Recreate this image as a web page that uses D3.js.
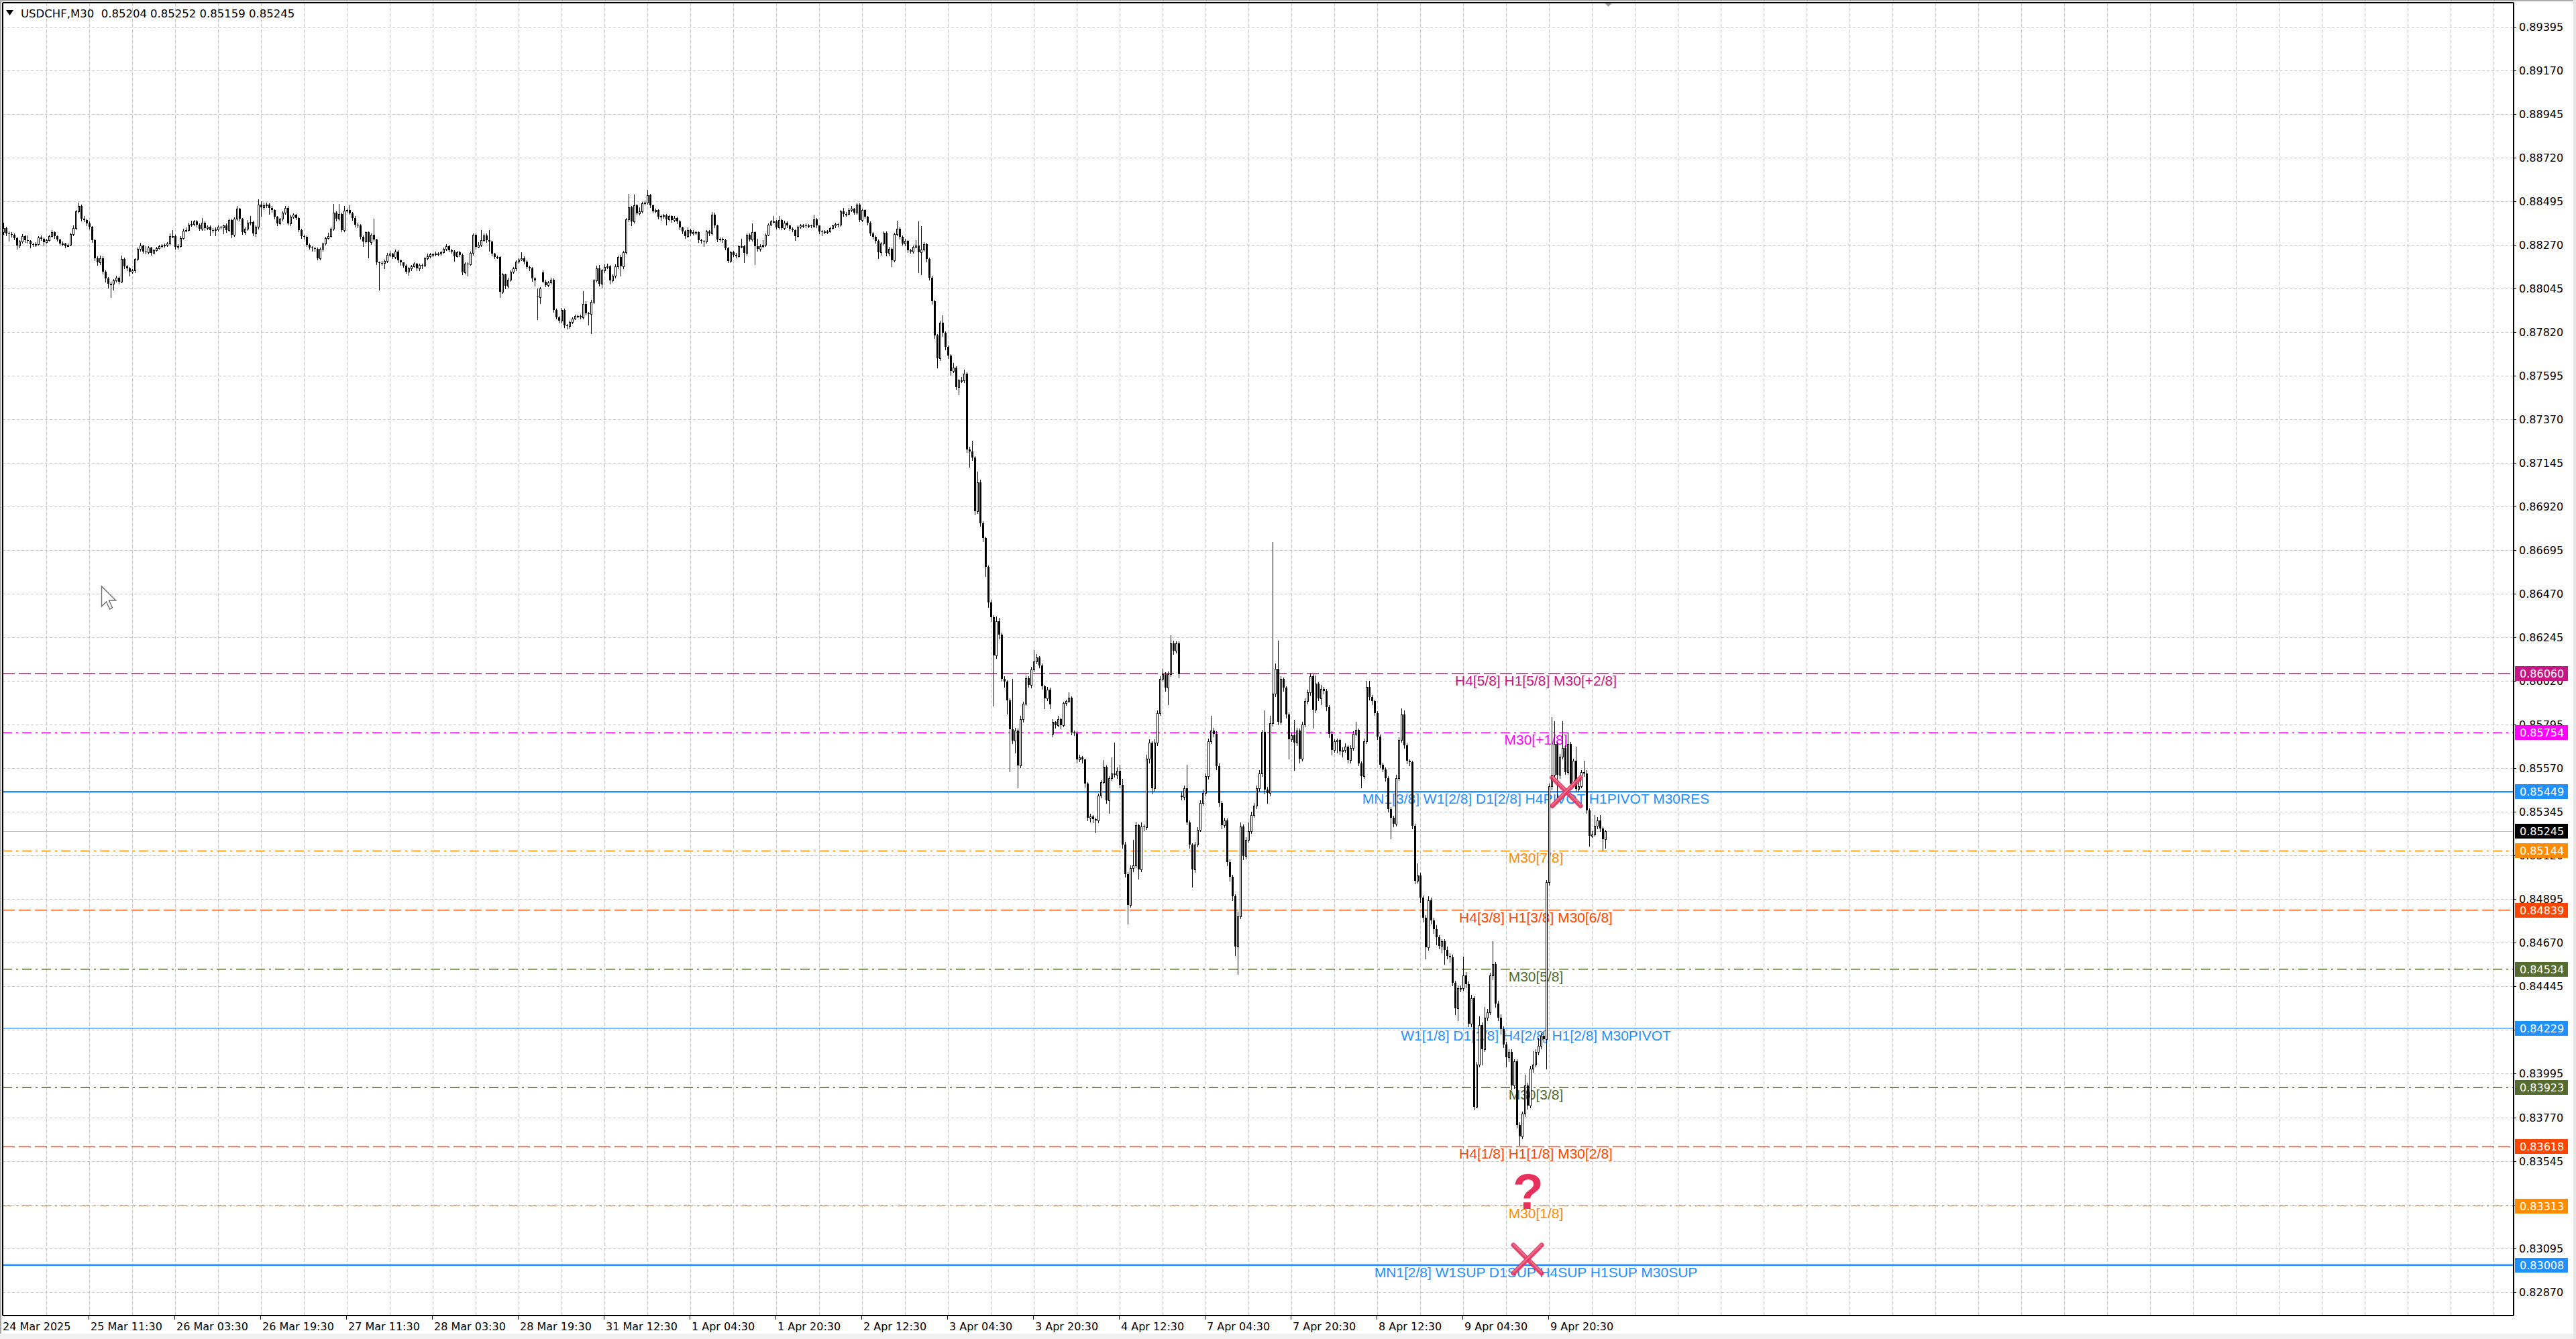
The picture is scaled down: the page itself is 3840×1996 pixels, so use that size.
<!DOCTYPE html>
<html>
<head>
<meta charset="utf-8">
<script src="https://cdn.jsdelivr.net/npm/d3@7"></script>
<style>
  html, body { margin: 0; padding: 0; background: #fff; overflow: hidden; }
  svg { display: block; }
</style>
</head>
<body>
<svg id="chart" width="3840" height="1996"></svg>
<script>
// USDCHF M30 - prices stored as price * 100000
const symbolTitle = "USDCHF,M30  0.85204 0.85252 0.85159 0.85245";
const firstOpen = 88335;
const gapBars = [199, 201, 391, 439];
const gapOpens = [88005, 88129, 85749, 85429];

const closes = [
  88358,88329,88326,88323,88306,88268,88288,88317,88295,88290,
  88273,88271,88275,88308,88302,88285,88294,88317,88335,88315,
  88298,88277,88277,88265,88272,88327,88358,88444,88471,88404,
  88398,88381,88363,88294,88202,88179,88202,88133,88098,88069,
  88071,88087,88102,88079,88196,88161,88150,88133,88138,88196,
  88248,88268,88237,88231,88256,88228,88242,88254,88262,88268,
  88271,88277,88317,88317,88260,88265,88306,88344,88348,88375,
  88377,88392,88375,88354,88383,88358,88363,88348,88346,88350,
  88363,88360,88369,88346,88398,88321,88404,88456,88404,88335,
  88352,88386,88389,88329,88363,88479,88464,88475,88479,88462,
  88450,88415,88381,88404,88435,88462,88381,88415,88425,88410,
  88346,88317,88311,88271,88256,88254,88250,88202,88248,88277,
  88306,88317,88352,88438,88404,88429,88348,88448,88450,88433,
  88410,88375,88371,88311,88288,88335,88283,88323,88298,88179,
  88178,88177,88187,88219,88225,88208,88237,88190,88179,88164,
  88133,88148,88161,88173,88150,88167,88164,88202,88210,88221,
  88221,88224,88225,88233,88248,88265,88242,88237,88213,88233,
  88219,88127,88173,88171,88228,88323,88260,88271,88294,88320,
  88294,88288,88225,88208,88208,88029,88118,88058,88092,88133,
  88148,88185,88194,88202,88185,88156,88150,88098,88087,88000,
  88046,88081,88063,88075,88092,87936,87896,87879,87936,87856,
  87850,87873,87891,87902,87902,87896,87965,87919,87913,87977,
  88087,88150,88069,88138,88156,88161,88087,88110,88161,88208,
  88161,88231,88401,88464,88392,88473,88433,88444,88485,88487,
  88528,88473,88444,88450,88415,88418,88421,88401,88418,88398,
  88410,88392,88360,88340,88317,88348,88329,88335,88335,88294,
  88291,88286,88340,88329,88427,88369,88298,88302,88294,88254,
  88187,88231,88219,88213,88265,88265,88228,88323,88298,88335,
  88265,88248,88265,88271,88323,88375,88392,88392,88360,88398,
  88358,88386,88369,88352,88346,88317,88363,88369,88371,88370,
  88371,88367,88401,88369,88340,88335,88339,88340,88358,88369,
  88377,88373,88444,88429,88429,88452,88456,88438,88479,88398,
  88450,88415,88386,88329,88311,88291,88231,88279,88332,88228,
  88251,88190,88325,88355,88311,88277,88290,88241,88237,88261,
  88267,88233,88245,88273,88197,88102,87979,87804,87685,87869,
  87816,87744,87700,87621,87637,87537,87571,87571,87605,87214,
  87204,87174,86896,87045,86836,86757,86608,86425,86350,86151,
  86330,86260,86032,86016,85922,85773,85714,85764,85585,85823,
  85903,86036,86002,86081,86121,86141,86101,85992,85932,85976,
  85899,85810,85793,85823,85793,85907,85917,85933,85754,85750,
  85615,85625,85615,85490,85315,85323,85307,85300,85429,85498,
  85578,85406,85521,85543,85536,85559,85483,85178,85026,84866,
  85056,85071,85277,85048,85269,85265,85620,85703,85467,85703,
  85856,86031,86057,85985,86054,86214,86176,86214,86054,85422,
  85467,85292,85178,85048,85178,85254,85391,85444,85528,85711,
  85764,85749,85582,85391,85277,85300,85087,85010,84911,84652,
  84805,85269,85117,85201,85246,85330,85376,85467,85543,85757,
  85460,85444,85802,85955,86084,85810,86031,85985,85848,85719,
  85741,85703,85764,85620,85795,85917,85962,86046,85871,86008,
  85932,85978,85970,85886,85749,85665,85711,85716,85658,85665,
  85681,85612,85676,85749,85767,85597,85528,85711,85990,85939,
  85917,85856,85734,85589,85566,85521,85361,85315,85285,85521,
  85718,85849,85689,85609,85601,85274,84990,85019,84902,84800,
  84647,84888,84786,84742,84698,84655,84677,84633,84604,84596,
  84465,84334,84436,84436,84502,84458,84254,84385,83825,84043,
  84247,84123,84283,84313,84502,84560,84356,84283,84225,84145,
  84079,84109,83934,84058,83730,83672,83788,83934,83832,84021,
  84043,84109,84138,84189,84174,84982,85478,85536,85696,85536,
  85631,85674,85550,85696,85492,85609,85463,85478,85550,85543,
  85354,85223,85230,85274,85303,85259,85204,85245
];

const highs = [
  88386,88365,88338,88335,88330,88312,88296,88325,88322,88318,
  88295,88282,88285,88316,88320,88308,88300,88322,88346,88340,
  88318,88302,88286,88282,88278,88332,88370,88452,88490,88478,
  88420,88405,88390,88368,88300,88210,88215,88210,88140,88105,
  88080,88095,88110,88108,88215,88205,88168,88155,88145,88200,
  88255,88280,88272,88262,88262,88260,88250,88260,88270,88275,
  88278,88285,88330,88345,88322,88275,88315,88352,88360,88385,
  88395,88400,88398,88380,88410,88390,88372,88370,88356,88360,
  88372,88368,88375,88382,88405,88405,88412,88470,88462,88410,
  88360,88398,88420,88395,88372,88505,88495,88490,88488,88485,
  88470,88455,88420,88410,88445,88470,88470,88425,88432,88430,
  88415,88352,88322,88318,88278,88262,88260,88255,88255,88282,
  88312,88332,88360,88480,88445,88480,88435,88470,88458,88475,
  88440,88418,88385,88378,88318,88340,88340,88330,88406,88302,
  88185,88186,88195,88228,88240,88230,88245,88242,88195,88182,
  88170,88155,88168,88180,88178,88175,88172,88208,88225,88230,
  88230,88235,88232,88240,88255,88275,88270,88250,88242,88240,
  88240,88225,88180,88180,88235,88330,88330,88285,88345,88330,
  88328,88345,88292,88230,88215,88212,88125,88122,88100,88140,
  88155,88192,88200,88232,88210,88190,88162,88155,88105,88046,
  88052,88138,88090,88085,88100,88098,87942,87905,87945,87942,
  87862,87880,87898,87910,87912,87910,88030,87980,87925,87985,
  88095,88162,88165,88145,88170,88175,88168,88118,88170,88215,
  88220,88240,88410,88535,88472,88530,88480,88465,88492,88500,
  88554,88535,88478,88458,88455,88425,88430,88428,88425,88422,
  88418,88415,88398,88365,88345,88360,88355,88345,88342,88340,
  88300,88296,88348,88345,88440,88435,88375,88310,88310,88300,
  88260,88240,88238,88228,88272,88300,88272,88330,88330,88380,
  88340,88300,88275,88295,88330,88380,88400,88418,88398,88418,
  88405,88395,88392,88375,88360,88350,88370,88378,88378,88380,
  88378,88375,88425,88408,88372,88345,88345,88348,88365,88375,
  88385,88382,88450,88460,88440,88462,88470,88462,88485,88485,
  88458,88455,88420,88390,88335,88318,88298,88285,88340,88338,
  88260,88258,88332,88395,88360,88318,88300,88295,88250,88268,
  88296,88392,88366,88285,88280,88205,88110,87985,87810,87880,
  87907,87825,87750,87708,87660,87645,87580,87590,87625,87612,
  87230,87259,87180,87100,87060,86845,86765,86615,86440,86360,
  86355,86345,86270,86045,86025,85930,86032,85780,85775,85840,
  85915,86050,86045,86095,86181,86160,86150,86110,86000,85990,
  85985,85825,85815,85840,85830,85915,85925,85963,85940,85765,
  85760,85640,85635,85620,85500,85335,85330,85315,85440,85510,
  85612,85585,85530,85627,85703,85575,85590,85515,85190,85035,
  85070,85200,85295,85285,85290,85280,85640,85720,85710,85720,
  85870,86045,86084,86065,86070,86255,86230,86225,86225,85450,
  85480,85589,85300,85185,85190,85265,85405,85460,85545,85725,
  85840,85780,85760,85595,85400,85315,85310,85100,85020,84920,
  84830,85290,85280,85215,85290,85345,85390,85480,85560,85770,
  85868,85475,85840,86739,86110,86229,86045,86040,85995,85860,
  85755,85820,85780,85775,85810,85930,85975,86060,86055,86050,
  86015,86000,85990,85980,85895,85760,85720,85725,85725,85680,
  85700,85690,85690,85760,85810,85775,85605,85725,86020,86020,
  85950,85925,85865,85745,85600,85575,85530,85370,85325,85535,
  85730,85880,85870,85700,85615,85610,85285,85080,85030,84915,
  84815,84910,84905,84800,84760,84710,84690,84690,84650,84615,
  84610,84475,84450,84450,84600,84520,84470,84400,84395,84055,
  84290,84260,84340,84330,84515,84680,84570,84370,84300,84240,
  84160,84120,84120,84070,84070,83745,83800,83990,83950,84035,
  84110,84120,84180,84205,84215,84995,85490,85834,85813,85705,
  85645,85813,85690,85754,85705,85620,85682,85500,85560,85609,
  85560,85365,85245,85330,85320,85330,85270,85252
];

const lows = [
  88326,88320,88290,88312,88298,88250,88258,88282,88285,88280,
  88255,88262,88265,88270,88296,88268,88280,88290,88312,88305,
  88290,88270,88268,88258,88262,88268,88320,88350,88438,88395,
  88390,88370,88355,88285,88190,88165,88170,88120,88080,88050,
  88000,88040,88080,88070,88075,88150,88140,88110,88125,88130,
  88190,88240,88228,88225,88225,88220,88225,88238,88250,88258,
  88260,88262,88270,88308,88250,88250,88260,88300,88338,88342,
  88368,88370,88365,88345,88348,88345,88350,88320,88335,88318,
  88342,88352,88330,88335,88340,88310,88315,88398,88395,88325,
  88325,88345,88375,88320,88315,88355,88420,88455,88465,88430,
  88440,88405,88370,88375,88395,88430,88375,88370,88408,88402,
  88338,88305,88300,88262,88248,88240,88240,88195,88195,88240,
  88270,88300,88312,88345,88395,88398,88340,88340,88440,88428,
  88400,88365,88362,88300,88262,88280,88204,88275,88290,88170,
  88040,88168,88150,88180,88212,88200,88200,88182,88165,88155,
  88125,88115,88140,88155,88140,88140,88150,88160,88195,88205,
  88212,88215,88216,88220,88228,88242,88235,88230,88188,88208,
  88210,88118,88120,88110,88165,88220,88250,88255,88265,88288,
  88285,88240,88215,88200,88200,88000,88020,88045,88050,88085,
  88125,88140,88178,88190,88175,88148,88140,88085,88060,87885,
  87970,88075,88055,88055,88068,87925,87888,87870,87870,87845,
  87838,87842,87865,87885,87895,87888,87890,87910,87860,87815,
  87970,88080,88060,88050,88130,88150,88070,88080,88102,88150,
  88110,88150,88225,88392,88370,88385,88425,88425,88438,88478,
  88480,88465,88435,88438,88405,88400,88410,88375,88395,88388,
  88392,88380,88350,88330,88305,88310,88320,88322,88325,88285,
  88280,88262,88280,88320,88322,88360,88288,88290,88285,88245,
  88180,88180,88210,88205,88208,88255,88180,88220,88290,88290,
  88170,88240,88240,88258,88265,88318,88370,88385,88352,88355,
  88350,88350,88362,88345,88338,88295,88312,88358,88362,88362,
  88362,88360,88360,88360,88330,88318,88328,88330,88335,88352,
  88362,88365,88368,88420,88420,88425,88445,88430,88430,88390,
  88390,88408,88375,88320,88300,88282,88200,88220,88270,88215,
  88215,88160,88185,88318,88300,88270,88268,88232,88228,88230,
  88255,88127,88118,88240,88185,88090,87965,87790,87637,87675,
  87800,87730,87685,87600,87612,87525,87498,87560,87560,87200,
  87124,87160,86880,86885,86820,86740,86560,86400,86330,85893,
  86140,86240,86020,85990,85853,85555,85700,85650,85472,85575,
  85810,85895,85990,85985,86070,86110,86090,85980,85880,85920,
  85880,85735,85780,85785,85775,85785,85895,85910,85745,85740,
  85600,85605,85600,85475,85300,85295,85290,85239,85290,85420,
  85490,85390,85340,85510,85525,85520,85470,85160,85010,84767,
  84855,85040,85060,85000,85040,85250,85255,85600,85440,85455,
  85690,85845,86020,85970,85900,86045,86160,86165,86040,85410,
  85410,85280,85160,84957,85035,85165,85245,85380,85430,85515,
  85700,85735,85565,85375,85260,85265,85070,84990,84890,84607,
  84508,84795,85100,85105,85190,85235,85320,85365,85455,85530,
  85440,85390,85430,85790,85940,85795,85800,85970,85830,85620,
  85710,85560,85690,85600,85610,85785,85905,85950,85780,85860,
  85920,85900,85955,85870,85730,85640,85655,85650,85645,85630,
  85655,85600,85600,85665,85740,85585,85470,85520,85700,85925,
  85900,85845,85720,85575,85555,85505,85345,85208,85270,85275,
  85510,85705,85675,85595,85585,85260,84975,84980,84880,84780,
  84590,84635,84770,84720,84660,84640,84620,84560,84590,84570,
  84450,84300,84270,84420,84425,84440,84240,84240,83810,83820,
  84030,84040,84110,84270,84300,84480,84340,84270,84200,84130,
  84030,84060,83915,83920,83715,83628,83660,83775,83815,83820,
  84005,84030,84095,84125,84160,84020,84970,85460,85525,85420,
  85520,85620,85540,85540,85480,85480,85450,85455,85470,85530,
  85340,85170,85215,85220,85260,85245,85150,85159
];

// price axis tick labels
const priceTicks = [0.89395,0.89170,0.88945,0.88720,0.88495,0.88270,0.88045,0.87820,
  0.87595,0.87370,0.87145,0.86920,0.86695,0.86470,0.86245,0.86020,0.85795,0.85570,
  0.85345,0.85120,0.84895,0.84670,0.84445,0.84220,0.83995,0.83770,0.83545,0.83320,
  0.83095,0.82870];

// time axis labels, one every 32 bars
const timeLabels = ["24 Mar 2025","25 Mar 11:30","26 Mar 03:30","26 Mar 19:30","27 Mar 11:30",
  "28 Mar 03:30","28 Mar 19:30","31 Mar 12:30","1 Apr 04:30","1 Apr 20:30","2 Apr 12:30",
  "3 Apr 04:30","3 Apr 20:30","4 Apr 12:30","7 Apr 04:30","7 Apr 20:30","8 Apr 12:30",
  "9 Apr 04:30","9 Apr 20:30"];

// Murrey math style levels
const levelPrices = [0.86060,0.85754,0.85449,0.85144,0.84839,0.84534,0.84229,0.83923,0.83618,0.83313,0.83008];
const levelNames = [
  "H4[5/8] H1[5/8] M30[+2/8]",
  "M30[+1/8]",
  "MN1[3/8] W1[2/8] D1[2/8] H4PIVOT H1PIVOT M30RES",
  "M30[7/8]",
  "H4[3/8] H1[3/8] M30[6/8]",
  "M30[5/8]",
  "W1[1/8] D1[1/8] H4[2/8] H1[2/8] M30PIVOT",
  "M30[3/8]",
  "H4[1/8] H1[1/8] M30[2/8]",
  "M30[1/8]",
  "MN1[2/8] W1SUP D1SUP H4SUP H1SUP M30SUP"
];
const levelLabelBar = 571;
const bidPrice = 0.85245;

// markers: [bar, price]
const crossMarks = [[582.4, 0.85449], [567.9, 0.83038]];
const questionMark = [568.1, 0.83298];

// styles for the levels (not data)
const levelStyle = [
  {color: "#C71585", dash: "18,6", width: 1.4},
  {color: "#FF00FF", dash: "14,6,3,6", width: 1.4},
  {color: "#1E90FF", dash: null, width: 2.4},
  {color: "#FF8C00", dash: "14,6,3,6", width: 1.4},
  {color: "#FF4500", dash: "18,6", width: 1.4},
  {color: "#556B2F", dash: "14,6,3,6", width: 1.4},
  {color: "#1E90FF", dash: null, width: 1.4},
  {color: "#556B2F", dash: "14,6,3,6", width: 1.4},
  {color: "#FF4500", dash: "18,6", width: 1.4},
  {color: "#FF8C00", dash: "14,6,3,6", width: 1.4},
  {color: "#1E90FF", dash: null, width: 2.4}
];

const W = 3840, H = 1996;
const plotLeft = 4, plotRight = 3747, plotTop = 4, plotBottom = 1961;

const x = d3.scaleLinear().domain([0, 936]).range([5.5, 5.5 + 4 * 936]);
const y = d3.scaleLinear().domain([0.82870, 0.89395]).range([1925.6, 40]);
const snap = v => Math.round(v) + 0.5;

const svg = d3.select("#chart");

svg.append("rect").attr("width", W).attr("height", H).attr("fill", "#fff");

// window frame
svg.append("rect").attr("x", 0).attr("y", 0).attr("width", W).attr("height", 2).attr("fill", "#a9a9a9");
svg.append("rect").attr("x", 0).attr("y", 0).attr("width", 2).attr("height", H).attr("fill", "#a9a9a9");
svg.append("rect").attr("x", 0).attr("y", 1988).attr("width", W).attr("height", 8).attr("fill", "#f0f0f0");
svg.append("rect").attr("x", 3836).attr("y", 0).attr("width", 4).attr("height", H).attr("fill", "#e6e6e6");

// grid
const grid = svg.append("g").attr("stroke", "#c6c6c6").attr("stroke-width", 1)
  .attr("shape-rendering", "crispEdges");

grid.selectAll(".hg").data(priceTicks).enter().append("line")
  .attr("x1", plotLeft).attr("x2", plotRight)
  .attr("y1", d => snap(y(d))).attr("y2", d => snap(y(d)))
  .attr("stroke-dasharray", "4,3");

grid.selectAll(".vg").data(d3.range(16, 936, 16).filter(b => x(b) < plotRight - 10)).enter().append("line")
  .attr("x1", d => x(d)).attr("x2", d => x(d))
  .attr("y1", plotTop).attr("y2", plotBottom)
  .attr("stroke-dasharray", "5,3");

// level lines
const levels = svg.append("g");
levelPrices.forEach((p, i) => {
  const st = levelStyle[i];
  levels.append("line")
    .attr("x1", plotLeft).attr("x2", plotRight)
    .attr("y1", y(p)).attr("y2", y(p))
    .attr("stroke", st.color)
    .attr("stroke-width", st.width)
    .attr("stroke-dasharray", st.dash);
});

// bid line
svg.append("line")
  .attr("x1", plotLeft).attr("x2", plotRight)
  .attr("y1", snap(y(bidPrice))).attr("y2", snap(y(bidPrice)))
  .attr("stroke", "#c0c0c0").attr("stroke-width", 1)
  .attr("shape-rendering", "crispEdges");

// level names
const labelG = svg.append("g")
  .attr("font-family", "'Liberation Sans', Arial, sans-serif")
  .attr("font-size", 21)
  .attr("text-anchor", "middle");
levelPrices.forEach((p, i) => {
  labelG.append("text")
    .attr("x", x(levelLabelBar))
    .attr("y", y(p) + 18)
    .attr("fill", levelStyle[i].color)
    .text(levelNames[i]);
});

// candles
const n = Math.min(closes.length, highs.length, lows.length);
const bars = [];
for (let i = 0; i < n; i++) {
  const gi = gapBars.indexOf(i);
  const o = i === 0 ? firstOpen : (gi >= 0 ? gapOpens[gi] : closes[i - 1]);
  const c = closes[i];
  bars.push({
    i: i,
    o: o / 1e5,
    c: c / 1e5,
    h: Math.max(highs[i], o, c) / 1e5,
    l: Math.min(lows[i], o, c) / 1e5
  });
}

const candles = svg.append("g").attr("shape-rendering", "crispEdges");

candles.selectAll(".wick").data(bars).enter().append("line")
  .attr("x1", d => x(d.i)).attr("x2", d => x(d.i))
  .attr("y1", d => Math.round(y(d.h))).attr("y2", d => Math.round(y(d.l)) + 1)
  .attr("stroke", "#000").attr("stroke-width", 1);

candles.selectAll(".body").data(bars).enter().append("rect")
  .attr("x", d => d.c >= d.o ? x(d.i) - 1 : x(d.i) - 1.5)
  .attr("width", d => d.c >= d.o ? 2 : 3)
  .attr("y", d => {
    const top = Math.round(y(Math.max(d.o, d.c)));
    return d.c >= d.o ? top + 0.5 : top;
  })
  .attr("height", d => {
    const top = Math.round(y(Math.max(d.o, d.c)));
    const bot = Math.round(y(Math.min(d.o, d.c)));
    return Math.max(1, bot - top);
  })
  .attr("fill", d => d.c >= d.o ? "#fff" : "#000")
  .attr("stroke", d => d.c >= d.o ? "#000" : "none")
  .attr("stroke-width", 1);

// markers
const markG = svg.append("g");
crossMarks.forEach(m => {
  const cx = x(m[0]), cy = y(m[1]), r = 21;
  [[-1, -1, 1, 1], [1, -1, -1, 1]].forEach(s => {
    markG.append("line")
      .attr("x1", cx + s[0] * r).attr("y1", cy + s[1] * r)
      .attr("x2", cx + s[2] * r).attr("y2", cy + s[3] * r)
      .attr("stroke", "#e0385f").attr("stroke-width", 7)
      .attr("stroke-linecap", "round").attr("opacity", 0.92);
    markG.append("line")
      .attr("x1", cx + s[0] * r).attr("y1", cy + s[1] * r - 1.5)
      .attr("x2", cx + s[2] * r).attr("y2", cy + s[3] * r - 1.5)
      .attr("stroke", "#f27a98").attr("stroke-width", 2)
      .attr("stroke-linecap", "round").attr("opacity", 0.8);
  });
});
markG.append("text")
  .attr("x", x(questionMark[0])).attr("y", y(questionMark[1]))
  .attr("text-anchor", "middle")
  .attr("font-family", "'Liberation Sans', Arial, sans-serif")
  .attr("font-weight", "bold").attr("font-size", 75)
  .attr("fill", "#e8305c")
  .text("?");

// mouse pointer left on the chart
svg.append("path")
  .attr("transform", `translate(${x(36.5)},${y(0.86509)})`)
  .attr("d", "M0,0 L0,30 L7,23 L12,34 L16,32 L11,21 L21,21 Z")
  .attr("fill", "#fff").attr("stroke", "#6e6e6e").attr("stroke-width", 1.4);

// chart shift marker
svg.append("path")
  .attr("d", `M${x(598) - 7},3 L${x(598) + 7},3 L${x(598)},10 Z`)
  .attr("fill", "#a0a0a0");

// frame lines
const frame = svg.append("g").attr("stroke", "#000").attr("stroke-width", 1.5)
  .attr("shape-rendering", "crispEdges");
frame.append("line").attr("x1", plotLeft).attr("x2", plotRight).attr("y1", plotTop).attr("y2", plotTop);
frame.append("line").attr("x1", plotLeft).attr("x2", plotLeft).attr("y1", plotTop).attr("y2", plotBottom);
frame.append("line").attr("x1", plotRight).attr("x2", plotRight).attr("y1", plotTop).attr("y2", plotBottom);
frame.append("line").attr("x1", plotLeft).attr("x2", plotRight).attr("y1", plotBottom).attr("y2", plotBottom);

// price axis
const pAxis = svg.append("g")
  .attr("font-family", "'DejaVu Sans', Verdana, sans-serif")
  .attr("font-size", 16);
pAxis.selectAll(".pt").data(priceTicks).enter().append("line")
  .attr("x1", plotRight).attr("x2", plotRight + 4)
  .attr("y1", d => snap(y(d))).attr("y2", d => snap(y(d)))
  .attr("stroke", "#000").attr("shape-rendering", "crispEdges");
pAxis.selectAll(".pl").data(priceTicks).enter().append("text")
  .attr("x", 3755).attr("y", d => y(d) + 6)
  .attr("fill", "#000")
  .text(d => d.toFixed(5));

// coloured price boxes
const boxPrices = levelPrices.concat([bidPrice]);
const boxColors = levelStyle.map(s => s.color).concat(["#000"]);
boxPrices.forEach((p, i) => {
  pAxis.append("rect")
    .attr("x", 3749).attr("y", Math.round(y(p)) - 11)
    .attr("width", 79).attr("height", 22)
    .attr("fill", boxColors[i]);
  pAxis.append("text")
    .attr("x", 3756).attr("y", y(p) + 6)
    .attr("fill", "#fff")
    .text(p.toFixed(5));
});

// time axis
const tAxis = svg.append("g")
  .attr("font-family", "'DejaVu Sans', Verdana, sans-serif")
  .attr("font-size", 16);
timeLabels.forEach((t, k) => {
  const tx = Math.round(x(k * 32) - 1.5) + 0.5;
  if (k > 0) {
    tAxis.append("line")
      .attr("x1", tx).attr("x2", tx)
      .attr("y1", plotBottom).attr("y2", plotBottom + 6)
      .attr("stroke", "#000").attr("shape-rendering", "crispEdges");
  }
  tAxis.append("text")
    .attr("x", k === 0 ? 4 : tx + 2.5)
    .attr("y", 1983)
    .attr("fill", "#000")
    .text(t);
});

// header
svg.append("path").attr("d", "M9,15 L20,15 L14.5,23 Z").attr("fill", "#000");
svg.append("text")
  .attr("x", 31).attr("y", 26)
  .attr("font-family", "'DejaVu Sans', Verdana, sans-serif")
  .attr("font-size", 16.5)
  .attr("fill", "#000")
  .attr("xml:space", "preserve")
  .style("white-space", "pre")
  .text(symbolTitle);
</script>
</body>
</html>
